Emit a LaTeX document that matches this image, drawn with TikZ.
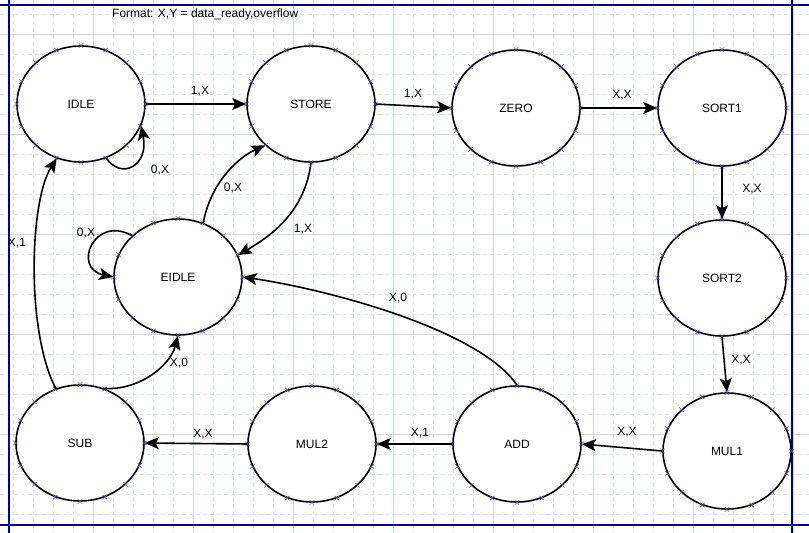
\documentclass[tikz,border=0pt]{standalone}
\usepackage{fontspec}
\setmainfont{Liberation Sans}
\usetikzlibrary{shapes.geometric,arrows.meta,calc}
\definecolor{gridc}{RGB}{222,228,228}
\definecolor{gridmaj}{RGB}{205,218,218}
\definecolor{framec}{RGB}{0,0,150}
\definecolor{xmarkc}{RGB}{80,80,230}
\begin{document}
\begin{tikzpicture}[x=1pt,y=-1pt,
 state/.style={ellipse,draw=black,line width=1.6pt,fill=white,minimum width=128pt,minimum height=116pt,inner sep=0pt,font=\fontsize{12}{14}\selectfont},
 edge/.style={line width=1.6pt,-{Stealth[length=14pt,width=12pt,inset=3pt]}},
 lbl/.style={font=\fontsize{12}{14}\selectfont,inner sep=0pt},
 xm/.style={xmarkc,line width=0.6pt},
 gridminor/.style={gridc,line width=0.7pt,dash pattern=on 4pt off 3pt},
 gridmajor/.style={gridmaj,line width=0.9pt},
 framel/.style={framec,line width=1.2pt}]
\useasboundingbox (0,0) rectangle (809,533);
\fill[white] (0,0) rectangle (809,533);
% grid
\foreach \x in {13,33,...,809} \draw[gridminor] (\x,0) -- (\x,533);
\foreach \y in {14,34,...,533} \draw[gridminor] (0,\y) -- (809,\y);
\foreach \x in {93,193,...,793} \draw[gridmajor] (\x,0) -- (\x,533);
\foreach \y in {34,134,...,434} \draw[gridmajor] (0,\y) -- (809,\y);
% frame
\draw[framel] (9,0) -- (9,533);
\draw[framel] (792,0) -- (792,533);
\draw[framel] (0,5) -- (809,5);
\draw[framel] (0,525) -- (809,525);
% title
\node[lbl,anchor=west] (fmt) at (112,14) {Format: X,Y = data\_ready,overflow};
% states
\node[state] (idle) at (81,104) {IDLE};
\node[state] (store) at (311,104) {STORE};
\node[state] (zero) at (516,108) {ZERO};
\node[state] (sort1) at (722,108) {SORT1};
\node[state] (sort2) at (722,278) {SORT2};
\node[state] (mul1) at (727,451) {MUL1};
\node[state] (add) at (517,444) {ADD};
\node[state] (mul2) at (312,444) {MUL2};
\node[state] (sub) at (80,443) {SUB};
\node[state] (eidle) at (178,277) {EIDLE};
\foreach \n in {idle,store,zero,sort1,sort2,mul1,add,mul2,sub,eidle}
  \foreach \a in {0,22.5,...,337.5}
    \draw[xm] ($(\n.center)+(\a:64.5pt and 58.5pt)$) +(-2.2,-2.2) -- +(2.2,2.2) +(-2.2,2.2) -- +(2.2,-2.2);
% edges
\draw[edge] (idle.east) -- (store.west);
\draw[edge] (idle.-65) .. controls +(15,22) and +(8,40) .. (idle.-20);
\draw[edge] (store.east) -- (zero.west);
\draw[edge] (zero.east) -- (sort1.west);
\draw[edge] (sort1.south) -- (sort2.north);
\draw[edge] (sort2.south) -- (mul1.north);
\draw[edge] (mul1.west) -- (add.east);
\draw[edge] (add.west) -- (mul2.east);
\draw[edge] (mul2.west) -- (sub.east);
\draw[edge] (sub.114) .. controls +(-30,-58) and +(-27,42) .. (idle.246);
\draw[edge] (sub.66) .. controls +(35,2) and +(-8,30) .. (eidle.south);
\draw[edge] (add.north) .. controls +(-37,-55) and +(88,13) .. (eidle.east);
\draw[edge] (store.south) .. controls +(-6,47) and +(36,-21) .. (eidle.20);
\draw[edge] (eidle.65) .. controls +(7,-38) and +(-29,13) .. (store.222);
\draw[edge] (eidle.138) .. controls +(-38,-21) and +(-41,-9) .. (eidle.west);
% labels
\node[lbl] (l1) at (200,91) {1,X};
\node[lbl] (l2) at (160,170) {0,X};
\node[lbl] (l3) at (413,94) {1,X};
\node[lbl] (l4) at (622,95) {X,X};
\node[lbl] (l5) at (752,189) {X,X};
\node[lbl] (l6) at (741,360) {X,X};
\node[lbl] (l7) at (627,432) {X,X};
\node[lbl] (l8) at (420,433) {X,1};
\node[lbl] (l9) at (203,434) {X,X};
\node[lbl] (l10) at (17,243) {X,1};
\node[lbl] (l11) at (179,363) {X,0};
\node[lbl] (l12) at (398,298) {X,0};
\node[lbl] (l13) at (303,229) {1,X};
\node[lbl] (l14) at (233,188) {0,X};
\node[lbl] (l15) at (86,233) {0,X};
\end{tikzpicture}
\end{document}
